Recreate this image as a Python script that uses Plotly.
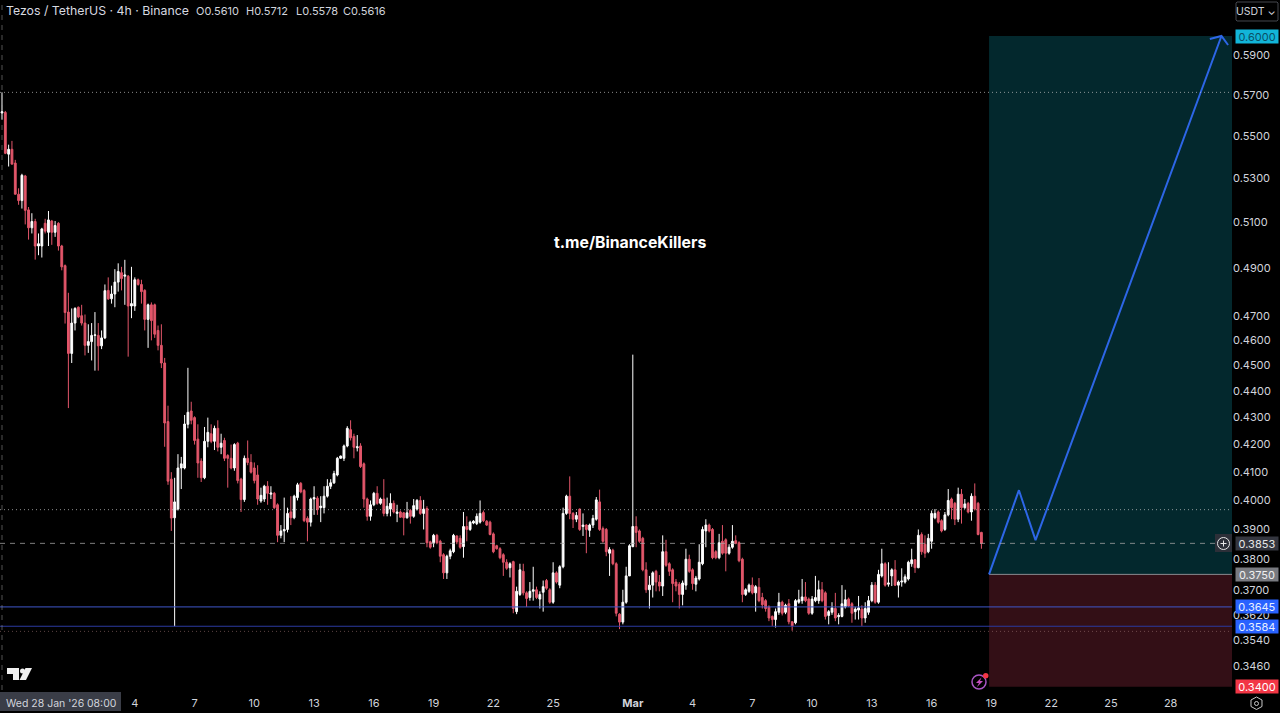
import math
import pandas as pd
import plotly.graph_objects as go

START = "2026-01-28 08:00"
opens = [
.5610,.5613,.5412,.5435,.5370,.5226,.5197,.5310,.5155,.5075,
.5103,.4995,.4995,.5095,.5055,.5105,.5055,.5095,.4995,.4910,
.4715,.4548,.4670,.4735,.4700,.4670,.4580,.4595,.4620,.4620,
.4578,.4610,.4805,.4770,.4790,.4840,.4880,.4865,.4865,.4740,
.4740,.4850,.4830,.4805,.4685,.4745,.4745,.4640,.4580,.4510,
.4285,.4075,.3940,.3970,.4115,.4115,.4275,.4325,.4300,.4220,
.4140,.4080,.4212,.4240,.4212,.4260,.4190,.4215,.4160,.4150,
.4115,.4205,.4075,.4003,.4150,.4135,.4115,.4090,.3998,.4005,
.4050,.4022,.4025,.3985,.3880,.3895,.3900,.3960,.3940,.4010,
.4060,.4035,.3938,.3925,.4005,.4008,.3975,.3975,.4015,.4050,
.4062,.4090,.4150,.4150,.4195,.4255,.4230,.4188,.4195,.4130,
.4005,.3945,.3985,.4025,.3990,.4005,.3955,.3970,.3990,.3955,
.3960,.3957,.3940,.3965,.3945,.3970,.4000,.3955,.3972,.3858,
.3855,.3880,.3860,.3815,.3755,.3810,.3825,.3878,.3870,.3842,
.3910,.3900,.3922,.3920,.3925,.3958,.3928,.3925,.3885,.3845,
.3835,.3815,.3790,.3772,.3792,.3630,.3685,.3760,.3690,.3675,
.3695,.3700,.3670,.3692,.3730,.3700,.3660,.3755,.3715,.3775,
.3955,.4015,.3955,.3935,.3970,.3910,.3915,.3897,.3915,.3935,
.3995,.3903,.3900,.3820,.3830,.3785,.3622,.3597,.3660,.3745,
.3842,.3910,.3895,.3870,.3765,.3700,.3715,.3760,.3725,.3712,
.3825,.3785,.3765,.3725,.3718,.3685,.3715,.3800,.3765,.3718,
.3735,.3785,.3895,.3915,.3900,.3825,.3805,.3860,.3865,.3820,
.3840,.3862,.3855,.3800,.3685,.3695,.3715,.3690,.3708,.3675,
.3665,.3645,.3615,.3605,.3628,.3660,.3628,.3655,.3598,.3595,
.3660,.3665,.3677,.3670,.3625,.3665,.3665,.3700,.3690,.3618,
.3628,.3640,.3614,.3615,.3645,.3670,.3655,.3630,.3635,.3638,
.3610,.3628,.3665,.3715,.3660,.3745,.3785,.3718,.3745,.3765,
.3715,.3725,.3725,.3735,.3785,.3798,.3772,.3883,.3850,.3825,
.3860,.3940,.3960,.3930,.3900,.3950,.4005,.3990,.3935,.4022,
.3975,.3990,.3960,.4015,.3990,.3890,
]
highs = [
.5712,.5620,.5457,.5475,.5385,.5253,.5320,.5315,.5168,.5140,
.5115,.5050,.5075,.5115,.5150,.5110,.5105,.5100,.5000,.4915,
.4795,.4730,.4735,.4738,.4745,.4705,.4665,.4670,.4715,.4670,
.4640,.4830,.4860,.4825,.4895,.4920,.4905,.4935,.4870,.4905,
.4860,.4855,.4850,.4810,.4750,.4755,.4750,.4660,.4665,.4530,
.4345,.4100,.4080,.4165,.4155,.4310,.4491,.4360,.4305,.4275,
.4150,.4265,.4300,.4275,.4270,.4290,.4240,.4225,.4165,.4200,
.4205,.4210,.4080,.4160,.4215,.4165,.4135,.4125,.4045,.4055,
.4068,.4050,.4030,.3990,.3915,.4010,.3975,.4015,.4020,.4062,
.4065,.4040,.3945,.4010,.4050,.4015,.4015,.4050,.4075,.4075,
.4105,.4155,.4160,.4200,.4268,.4290,.4240,.4235,.4205,.4135,
.4010,.4000,.4030,.4050,.4010,.4075,.4010,.4025,.4000,.3985,
.3965,.3960,.3995,.3970,.4005,.4005,.4015,.4002,.3980,.3862,
.3885,.3885,.3865,.3820,.3815,.3835,.3885,.3880,.3880,.3960,
.3945,.3930,.3932,.3955,.4000,.3965,.3932,.3930,.3890,.3848,
.3840,.3820,.3800,.3790,.3795,.3710,.3785,.3785,.3695,.3725,
.3775,.3710,.3695,.3730,.3735,.3705,.3790,.3760,.3780,.3975,
.4020,.4085,.3960,.3960,.3972,.3955,.3918,.3920,.3950,.4012,
.4038,.3910,.3905,.3840,.3835,.3790,.3625,.3700,.3775,.3850,
.4543,.3945,.3900,.3875,.3790,.3745,.3760,.3765,.3748,.3880,
.3865,.3790,.3770,.3735,.3725,.3730,.3835,.3815,.3770,.3745,
.3850,.3910,.3935,.3920,.3905,.3830,.3885,.3915,.3870,.3850,
.3915,.3880,.3860,.3805,.3705,.3720,.3740,.3715,.3738,.3690,
.3670,.3650,.3618,.3640,.3690,.3665,.3655,.3670,.3600,.3670,
.3700,.3735,.3725,.3675,.3680,.3745,.3730,.3725,.3695,.3635,
.3660,.3690,.3625,.3715,.3700,.3675,.3660,.3645,.3680,.3650,
.3660,.3680,.3725,.3725,.3765,.3835,.3790,.3790,.3770,.3797,
.3730,.3770,.3750,.3795,.3835,.3800,.3900,.3890,.3880,.3885,
.3965,.3970,.3965,.3935,.3960,.4040,.4010,.3995,.4045,.4040,
.4005,.3995,.4025,.4060,.3995,.3892,
]
lows = [
.5578,.5412,.5354,.5365,.5225,.5178,.5161,.5090,.5023,.5050,
.4936,.4955,.4945,.5050,.4995,.5000,.5035,.4975,.4890,.4668,
.4336,.4510,.4640,.4690,.4660,.4540,.4550,.4520,.4480,.4480,
.4565,.4605,.4765,.4750,.4735,.4800,.4805,.4745,.4535,.4690,
.4720,.4825,.4750,.4640,.4570,.4600,.4610,.4560,.4490,.4192,
.4055,.3895,.3584,.3965,.4040,.4110,.4260,.4275,.4200,.4080,
.4065,.4075,.4190,.4205,.4180,.4175,.4165,.4140,.4045,.4110,
.4105,.4060,.3960,.3995,.4125,.4095,.4060,.3985,.3992,.3995,
.3985,.4005,.3970,.3857,.3870,.3857,.3890,.3915,.3935,.4000,
.4025,.3925,.3860,.3910,.3950,.3950,.3925,.3955,.4010,.4040,
.4058,.4085,.4148,.4140,.4190,.4215,.4150,.4175,.4115,.3975,
.3930,.3930,.3980,.3985,.3985,.3945,.3945,.3945,.3955,.3925,
.3940,.3880,.3937,.3920,.3940,.3965,.3950,.3900,.3840,.3835,
.3840,.3850,.3790,.3735,.3735,.3800,.3820,.3850,.3835,.3805,
.3860,.3895,.3918,.3915,.3920,.3925,.3912,.3880,.3820,.3832,
.3800,.3745,.3765,.3740,.3625,.3622,.3680,.3682,.3645,.3665,
.3665,.3670,.3640,.3630,.3700,.3655,.3655,.3720,.3705,.3770,
.3950,.3935,.3905,.3925,.3895,.3878,.3820,.3875,.3905,.3930,
.3895,.3855,.3810,.3745,.3780,.3615,.3575,.3590,.3655,.3745,
.3840,.3840,.3855,.3760,.3690,.3640,.3675,.3695,.3695,.3680,
.3775,.3745,.3660,.3695,.3640,.3650,.3700,.3755,.3700,.3695,
.3730,.3780,.3840,.3890,.3800,.3800,.3800,.3815,.3760,.3815,
.3835,.3850,.3790,.3660,.3680,.3690,.3685,.3630,.3660,.3640,
.3630,.3600,.3585,.3580,.3620,.3618,.3622,.3590,.3570,.3590,
.3655,.3655,.3660,.3620,.3620,.3660,.3655,.3660,.3605,.3590,
.3620,.3600,.3590,.3612,.3640,.3645,.3595,.3605,.3605,.3585,
.3595,.3620,.3660,.3655,.3655,.3740,.3710,.3710,.3712,.3712,
.3675,.3710,.3720,.3730,.3775,.3755,.3770,.3815,.3805,.3820,
.3835,.3935,.3920,.3890,.3895,.3945,.3935,.3915,.3925,.3920,
.3970,.3955,.3930,.3965,.3880,.3835,
]
closes = [
.5616,.5416,.5435,.5365,.5226,.5197,.5313,.5153,.5075,.5103,
.4995,.5005,.5070,.5060,.5110,.5055,.5085,.4995,.4905,.4713,
.4548,.4670,.4730,.4695,.4670,.4580,.4595,.4620,.4622,.4578,
.4610,.4804,.4770,.4790,.4840,.4885,.4855,.4870,.4740,.4750,
.4850,.4830,.4800,.4685,.4745,.4680,.4625,.4580,.4510,.4280,
.4068,.3939,.3995,.4115,.4130,.4276,.4320,.4290,.4215,.4133,
.4080,.4212,.4245,.4212,.4260,.4190,.4205,.4150,.4150,.4115,
.4200,.4070,.4003,.4150,.4135,.4100,.4070,.4005,.4018,.4050,
.4025,.4026,.3975,.3880,.3895,.3900,.3955,.3940,.4015,.4055,
.4030,.3930,.3925,.4005,.4010,.3968,.3980,.4015,.4050,.4062,
.4095,.4150,.4158,.4195,.4260,.4225,.4190,.4192,.4120,.4005,
.3945,.3985,.4025,.3990,.4005,.3955,.3980,.3990,.3960,.3960,
.3942,.3940,.3957,.3945,.3982,.4000,.3955,.3970,.3855,.3840,
.3880,.3855,.3810,.3755,.3810,.3828,.3880,.3858,.3840,.3910,
.3900,.3925,.3928,.3945,.3955,.3930,.3915,.3883,.3825,.3835,
.3805,.3790,.3770,.3785,.3640,.3695,.3765,.3690,.3672,.3695,
.3700,.3675,.3685,.3710,.3705,.3660,.3755,.3725,.3775,.3955,
.4015,.3955,.3935,.3948,.3900,.3915,.3900,.3915,.3938,.4002,
.3900,.3860,.3825,.3832,.3785,.3625,.3597,.3660,.3745,.3845,
.3910,.3890,.3860,.3765,.3700,.3715,.3755,.3725,.3712,.3825,
.3780,.3760,.3720,.3712,.3685,.3722,.3800,.3760,.3720,.3738,
.3790,.3900,.3915,.3895,.3805,.3805,.3855,.3820,.3820,.3840,
.3860,.3853,.3795,.3685,.3700,.3715,.3690,.3710,.3665,.3652,
.3640,.3610,.3605,.3630,.3660,.3625,.3650,.3598,.3585,.3665,
.3668,.3677,.3665,.3625,.3670,.3675,.3700,.3665,.3615,.3630,
.3642,.3610,.3618,.3655,.3668,.3648,.3625,.3638,.3642,.3610,
.3640,.3665,.3715,.3660,.3750,.3785,.3715,.3722,.3765,.3715,
.3725,.3728,.3742,.3790,.3798,.3772,.3880,.3825,.3820,.3870,
.3955,.3955,.3925,.3895,.3950,.4000,.3975,.3935,.4022,.3975,
.3988,.3960,.4015,.3970,.3883,.3853,
]

dates = pd.date_range(START, periods=len(closes), freq="4h")

y_ticks = [.59, .57, .55, .53, .51, .49, .47, .46, .45, .44, .43, .42, .41, .40, .39, .38, .37, .362, .354, .346]
x_tick_dates = ["2026-02-04", "2026-02-07", "2026-02-10", "2026-02-13", "2026-02-16", "2026-02-19",
                "2026-02-22", "2026-02-25", "2026-03-01", "2026-03-04", "2026-03-07", "2026-03-10",
                "2026-03-13", "2026-03-16", "2026-03-19", "2026-03-22", "2026-03-25", "2026-03-28"]
x_tick_text = ["4", "7", "10", "13", "16", "19", "22", "25", "<b>Mar</b>", "4", "7", "10", "13", "16", "19", "22", "25", "28"]

entry, target, stop = 0.3750, 0.6000, 0.3400
last_price, high_line, mid_line = 0.3853, 0.5712, 0.3968
support_a, support_b, low_dot = 0.3645, 0.3584, 0.3568
path_dates = ["2026-03-18 21:12", "2026-03-20 09:12", "2026-03-21 05:12", "2026-03-30 13:12"]
path_prices = [0.3750, 0.4036, 0.3864, 0.6000]
head_dates = ["2026-03-29 23:12", "2026-03-30 13:12", "2026-03-30 21:12"]
head_prices = [0.5984, 0.6000, 0.5953]

W, H = 1280, 713
PW, PH = 1232, 690
BG = "#000000"
RED = "#e2566a"
WHITE = "#ffffff"
BLUE = "#2d66e6"
TXT = "#d1d4dc"
FONT = "Inter, Roboto, Arial, sans-serif"

x0 = pd.Timestamp(START) - pd.Timedelta(hours=2.4)
x1 = x0 + pd.Timedelta(hours=1484.3)
ytop, ybot = 0.61916, 0.3390

def px(v):
    return v / PW
def py(v):
    return 1 - v / PH

fig = go.Figure()

shapes = []
def hline(price, color, width, dash, x_end=None):
    shapes.append(dict(type="line", xref="x", yref="y", x0=x0, x1=x_end if x_end is not None else x1,
                       y0=price, y1=price, line=dict(color=color, width=width, dash=dash), layer="above"))

box_left = path_dates[0]
shapes.append(dict(type="rect", xref="x", yref="y", x0=box_left, x1=x1, y0=entry, y1=target,
                   fillcolor="#03282d", line_width=0, layer="below"))
shapes.append(dict(type="rect", xref="x", yref="y", x0=box_left, x1=x1, y0=stop, y1=entry,
                   fillcolor="#330f16", line_width=0, layer="below"))
hline(high_line, "rgba(200,200,200,0.7)", 1, "1px,3px")
hline(mid_line, "rgba(200,200,200,0.7)", 1, "1px,3px")
hline(last_price, "rgba(170,170,170,0.75)", 1, "5px,5px", x_end=pd.Timestamp("2026-03-30 09:00"))
hline(support_a, "#3f56c9", 1, "solid")
hline(support_b, "#2b3aa0", 1, "solid")
hline(low_dot, "rgba(150,110,110,0.6)", 1, "1px,3px")
shapes.append(dict(type="line", xref="x", yref="y", x0=box_left, x1=x1, y0=entry, y1=entry,
                   line=dict(color="#8a8a90", width=1), layer="below"))
# crosshair
shapes.append(dict(type="line", xref="paper", yref="paper", x0=px(2), x1=px(2), y0=0, y1=1,
                   line=dict(color="rgba(150,150,150,0.55)", width=1, dash="5px,5px")))
# plus button
shapes.append(dict(type="rect", xref="paper", yref="paper", x0=px(1215), x1=px(1232), y0=py(552), y1=py(534),
                   fillcolor="#2c2f38", line_width=0))
shapes.append(dict(type="circle", xref="paper", yref="paper", x0=px(1217.5), x1=px(1229.5), y0=py(549.5), y1=py(537.5),
                   line=dict(color="#e8e8e8", width=1)))
shapes.append(dict(type="line", xref="paper", yref="paper", x0=px(1220.5), x1=px(1226.5), y0=py(543.5), y1=py(543.5),
                   line=dict(color="#e8e8e8", width=1)))
shapes.append(dict(type="line", xref="paper", yref="paper", x0=px(1223.5), x1=px(1223.5), y0=py(540.5), y1=py(546.5),
                   line=dict(color="#e8e8e8", width=1)))

def poly(pts):
    return "M " + " L ".join(f"{px(a):.5f},{py(b):.5f}" for a, b in pts) + " Z"
# logo
for pts in ([(7, 668), (19, 668), (19, 680), (13, 680), (13, 674), (7, 674)],
            [(25.5, 668), (32, 668), (26, 680), (19.5, 680)]):
    shapes.append(dict(type="path", xref="paper", yref="paper", path=poly(pts), fillcolor="#f0f0f0", line_width=0))
shapes.append(dict(type="circle", xref="paper", yref="paper", x0=px(20), x1=px(25), y0=py(673.5), y1=py(668.5),
                   fillcolor="#f0f0f0", line_width=0))
# alert icon
shapes.append(dict(type="circle", xref="paper", yref="paper", x0=px(972), x1=px(986), y0=py(689), y1=py(675),
                   line=dict(color="#a956c4", width=1.5)))
shapes.append(dict(type="path", xref="paper", yref="paper",
                   path=poly([(981.5, 677.5), (976, 683), (979, 683), (977, 687), (983, 681), (980, 681)]),
                   fillcolor="#c64fc0", line_width=0))
shapes.append(dict(type="circle", xref="paper", yref="paper", x0=px(983), x1=px(988.5), y0=py(678.5), y1=py(673),
                   fillcolor="#f23645", line_width=0))
# settings hexagon
shapes.append(dict(type="path", xref="paper", yref="paper",
                   path=poly([(1256.5, 697), (1262, 700), (1262, 706.5), (1256.5, 709.5), (1251, 706.5), (1251, 700)]),
                   line=dict(color="#c8c8c8", width=1)))
shapes.append(dict(type="circle", xref="paper", yref="paper", x0=px(1254.5), x1=px(1258.5), y0=py(705.5), y1=py(701.5),
                   line=dict(color="#c8c8c8", width=1)))

fig.add_trace(go.Candlestick(
    x=dates, open=opens, high=highs, low=lows, close=closes,
    increasing=dict(line=dict(color=WHITE, width=1), fillcolor=WHITE),
    decreasing=dict(line=dict(color=RED, width=1), fillcolor=RED),
    whiskerwidth=0, showlegend=False, hoverinfo="skip",
))
fig.add_trace(go.Scatter(x=path_dates, y=path_prices, mode="lines", line=dict(color=BLUE, width=2),
                         showlegend=False, hoverinfo="skip"))
fig.add_trace(go.Scatter(x=head_dates, y=head_prices, mode="lines", line=dict(color=BLUE, width=2),
                         showlegend=False, hoverinfo="skip"))

ann = []
def text(xp, yp, s, size=11, color=TXT, anchor="left", bold=False):
    ann.append(dict(xref="paper", yref="paper", x=px(xp), y=py(yp), text=f"<b>{s}</b>" if bold else s,
                    showarrow=False, xanchor=anchor, yanchor="middle",
                    font=dict(size=size, color=color, family=FONT)))
text(4, 11, "Tezos / TetherUS · 4h · Binance", size=12.3, color="#d8dae0")
text(194, 11, "O0.5610", size=11)
text(244, 11, "H0.5712", size=11)
text(294, 11, "L0.5578", size=11)
text(341, 11, "C0.5616", size=11)
text(629.5, 242, "t.me/BinanceKillers", size=15.8, color="#ffffff", anchor="center", bold=True)
text(1256.5, 11.5, "USDT ⌄", size=10.5, anchor="center")

def tag(price, label, bg, fg):
    ann.append(dict(xref="paper", yref="y", x=1, y=math.log10(price), xanchor="left", yanchor="middle", xshift=3,
                    text=label, showarrow=False, bgcolor=bg, width=42, height=13, borderpad=0,
                    font=dict(size=11, color=fg, family=FONT)))
tag(target, "0.6000", "#12b5d9", "#0b4f66")
tag(last_price, "0.3853", "#34363f", "#e6e6e6")
tag(entry, "0.3750", "#787a80", "#f0f0f0")
tag(support_a, "0.3645", "#2962ff", "#e8efff")
tag(support_b, "0.3584", "#2962ff", "#e8efff")
tag(stop, "0.3400", "#f23645", "#ffffff")

# pill for crosshair date
shapes.append(dict(type="rect", xref="paper", yref="paper", x0=0, x1=px(121), y0=py(711), y1=py(692),
                   fillcolor="#3a3d47", line_width=0))
text(4, 703, "Wed 28 Jan '26", size=10.5, color="#d1d4dc")
text(85, 703, "08:00", size=10.5, color="#d1d4dc")
# USDT button
shapes.append(dict(type="path", xref="paper", yref="paper", line=dict(color="#44464d", width=1),
                   path=poly([(1237, 2), (1277, 2), (1278, 3), (1278, 20), (1277, 21), (1237, 21), (1236, 20), (1236, 3)])))

fig.update_layout(
    width=W, height=H, paper_bgcolor=BG, plot_bgcolor=BG,
    margin=dict(l=0, r=W - PW, t=0, b=H - PH),
    boxgap=0.22, showlegend=False, shapes=shapes, annotations=ann,
    font=dict(family=FONT, color=TXT, size=11),
    xaxis=dict(type="date", range=[x0, x1], rangeslider=dict(visible=False), showgrid=False, zeroline=False,
               showline=False, tickmode="array", tickvals=x_tick_dates, ticktext=x_tick_text,
               ticks="outside", ticklen=3, tickcolor="rgba(0,0,0,0)", tickfont=dict(size=11, color=TXT, family=FONT)),
    yaxis=dict(type="log", side="right", range=[math.log10(ybot), math.log10(ytop)], showgrid=False, zeroline=False,
               showline=False, tickmode="array", tickvals=y_ticks, ticktext=[f"{v:.4f}" for v in y_ticks],
               ticks="", tickfont=dict(size=11, color=TXT, family=FONT)),
)

fig.write_html("out.html", config=dict(displayModeBar=False),
               post_script="document.body.style.margin='0';document.body.style.background='#000';document.body.style.overflow='hidden';")
